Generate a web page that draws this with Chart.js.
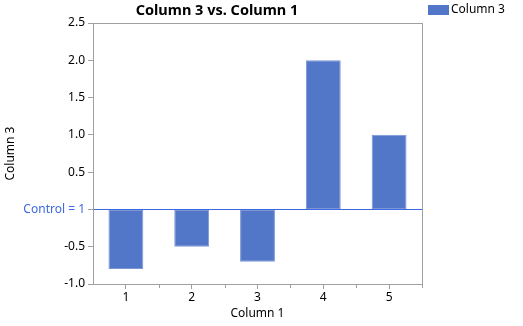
<!DOCTYPE html>
<html>
<head>
<meta charset="utf-8">
<script src="https://cdn.jsdelivr.net/npm/chart.js@4"></script>
<style>
  html, body { margin: 0; padding: 0; background: #fff; }
  #wrap { width: 523px; height: 326px; position: relative; }
</style>
</head>
<body>
<div id="wrap"><canvas id="chart"></canvas></div>
<script>
/* ===== DATA ===== */
const categories = ["1", "2", "3", "4", "5"];
const column3 = [-0.8, -0.5, -0.7, 2.0, 1.0];
const seriesName = "Column 3";
const chartTitle = "Column 3 vs. Column 1";
const xTitle = "Column 1";
const yTitle = "Column 3";
const controlLabel = "Control = 1";

const FONT = "'Noto Sans', 'DejaVu Sans', sans-serif";
const BAR = "#5277c9";
const BLUE = "#3d68e0";
const AXIS = "#a0a0a0";

/* ===== PLUGINS ===== */
const frame = {
  id: "frame",
  afterDatasetsDraw(chart) {
    const { ctx, chartArea: a, scales } = chart;
    ctx.save();
    // zero / control line
    const y0 = scales.y.getPixelForValue(0);
    ctx.strokeStyle = BLUE;
    ctx.lineWidth = 1;
    ctx.beginPath();
    ctx.moveTo(a.left, Math.round(y0) + 0.5);
    ctx.lineTo(a.right, Math.round(y0) + 0.5);
    ctx.stroke();
    // box
    ctx.strokeStyle = AXIS;
    ctx.strokeRect(Math.round(a.left) + 0.5, Math.round(a.top) + 0.5,
      Math.round(a.right - a.left), Math.round(a.bottom - a.top));
    // minor ticks at category edges
    const x = scales.x;
    const half = (x.getPixelForValue(1) - x.getPixelForValue(0)) / 2;
    ctx.beginPath();
    for (let i = 0; i < categories.length; i++) {
      const px = Math.round(x.getPixelForValue(i) + half) + 0.5;
      ctx.moveTo(px, a.bottom);
      ctx.lineTo(px, a.bottom + 4);
    }
    ctx.stroke();
    // title
    ctx.fillStyle = "#000";
    ctx.font = "bold 14.5px " + FONT;
    ctx.textAlign = "center";
    ctx.textBaseline = "middle";
    ctx.fillText(chartTitle, 217, 11);
    // legend
    ctx.fillStyle = BAR;
    ctx.fillRect(428, 5, 21, 10);
    ctx.fillStyle = "#000";
    ctx.font = "12px " + FONT;
    ctx.textAlign = "left";
    ctx.fillText(seriesName, 451, 10);
    ctx.restore();
  }
};

/* ===== CHART ===== */
new Chart(document.getElementById("chart"), {
  type: "bar",
  data: {
    labels: categories,
    datasets: [{
      label: seriesName,
      data: column3,
      backgroundColor: BAR,
      borderColor: "#7d97d6",
      borderWidth: 1,
      borderSkipped: false,
      categoryPercentage: 1,
      barPercentage: 0.53
    }]
  },
  options: {
    responsive: true,
    maintainAspectRatio: false,
    animation: false,
    layout: { padding: { top: 23, right: 101, left: 3, bottom: 0 } },
    plugins: {
      legend: { display: false },
      title: { display: false },
      tooltip: { enabled: false }
    },
    scales: {
      x: {
        grid: { offset: false, drawOnChartArea: false, tickLength: 5, color: AXIS },
        border: { display: false },
        ticks: { color: "#000", font: { family: FONT, size: 12 }, padding: 1 },
        title: { display: true, text: xTitle, color: "#000", font: { family: FONT, size: 12 }, padding: { top: 0, bottom: 5 } },
        afterFit(s) { s.height = 42; }
      },
      y: {
        min: -1.0,
        max: 2.5,
        ticks: {
          stepSize: 0.5,
          font: { family: FONT, size: 12 },
          padding: 3,
          color: c => c.tick.value === 0 ? BLUE : "#000",
          callback: v => v === 0 ? controlLabel : v.toFixed(1)
        },
        grid: {
          drawOnChartArea: false,
          tickLength: 5,
          tickColor: AXIS,
          color: AXIS
        },
        border: { display: false },
        title: { display: true, text: yTitle, color: "#000", font: { family: FONT, size: 12 }, padding: 0 },
        afterFit(s) { s.width = 90; }
      }
    }
  },
  plugins: [frame]
});
</script>
</body>
</html>
